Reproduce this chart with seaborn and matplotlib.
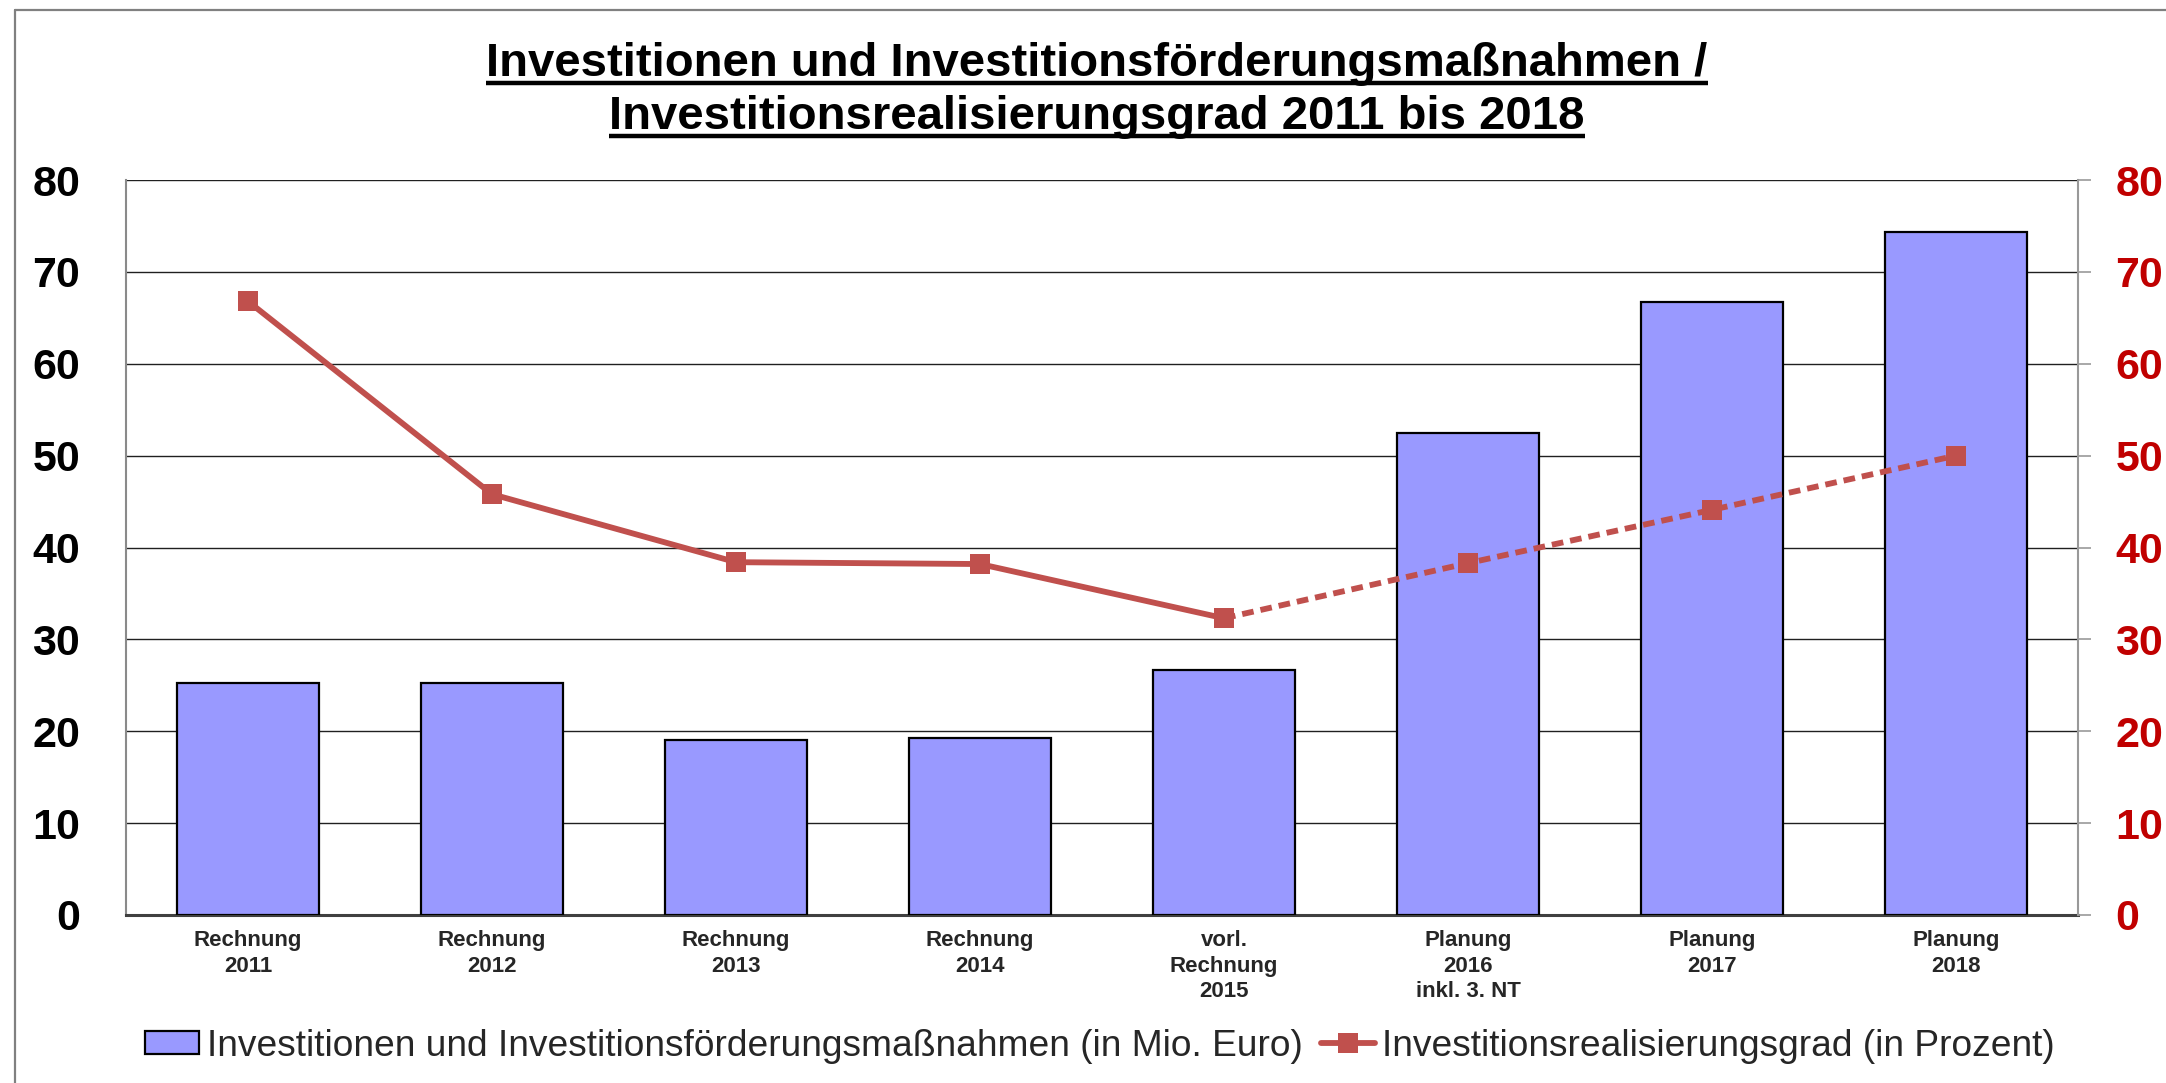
import matplotlib
matplotlib.use("Agg")
import matplotlib.pyplot as plt
from matplotlib.lines import Line2D
from matplotlib.patches import Patch
import numpy as np
import pandas as pd
import seaborn as sns

# ---- data ----
categories = ["Rechnung\n2011", "Rechnung\n2012", "Rechnung\n2013", "Rechnung\n2014",
              "vorl.\nRechnung\n2015", "Planung\n2016\ninkl. 3. NT", "Planung\n2017", "Planung\n2018"]
investments = [25.2, 25.3, 19.1, 19.25, 26.7, 52.5, 66.7, 74.3]
realisation = [66.8, 45.8, 38.4, 38.2, 32.3, 38.3, 44.1, 50.0]
yticks = [0, 10, 20, 30, 40, 50, 60, 70, 80]
title_lines = ["Investitionen und Investitionsförderungsmaßnahmen /",
               "Investitionsrealisierungsgrad 2011 bis 2018"]
legend_labels = ["Investitionen und Investitionsförderungsmaßnahmen (in Mio. Euro)",
                 "Investitionsrealisierungsgrad (in Prozent)"]

sns.set_theme(style="white")
plt.rcParams['font.family'] = ['Liberation Sans', 'DejaVu Sans']

W, H = 2166, 1083
fig = plt.figure(figsize=(W / 100, H / 100), dpi=100)
fig.patch.set_facecolor("white")

ax = fig.add_axes([126 / W, 1 - 915 / H, (2078 - 126) / W, (915 - 180) / H])

BAR = "#9999FF"
LINE = "#C0504D"
RED = "#C00000"

df = pd.DataFrame({"cat": categories, "val": investments})
sns.barplot(data=df, x="cat", y="val", ax=ax, color=BAR, saturation=1, width=0.58,
            edgecolor="black", linewidth=1.6, zorder=3)
ax.set_xlim(-0.5, len(categories) - 0.5)
ax.set_ylim(0, 80)
ax.set_yticks(yticks)
ax.set_yticklabels([str(v) for v in yticks], fontsize=31, fontweight="bold", color="black")
ax.set_xlabel("")
ax.set_ylabel("")
ax.tick_params(axis="x", length=0, pad=11)
ax.tick_params(axis="y", length=0, pad=33)
for lab in ax.get_xticklabels():
    lab.set_fontsize(16)
    lab.set_fontweight("bold")
    lab.set_linespacing(1.28)
ax.grid(axis="y", color="#202020", linewidth=1.0)
ax.grid(axis="x", visible=False)
ax.set_axisbelow(True)
ax.spines["top"].set_visible(False)
ax.spines["right"].set_visible(False)
ax.spines["left"].set_color("#8a8a8a")
ax.spines["left"].set_linewidth(1.5)
ax.spines["bottom"].set_color("#404040")
ax.spines["bottom"].set_linewidth(2.2)

ax2 = ax.twinx()
idx = np.arange(len(categories))
sns.lineplot(x=idx[:5], y=realisation[:5], ax=ax2, color=LINE, linewidth=4.2,
             marker="s", markersize=14.5, markeredgewidth=0, zorder=5)
sns.lineplot(x=idx[4:], y=realisation[4:], ax=ax2, color=LINE, linewidth=4.2,
             linestyle=(0, (2.0, 1.2)), marker="s", markersize=14.5, markeredgewidth=0, zorder=5)
ax2.set_ylim(0, 80)
ax2.set_yticks(yticks)
ax2.set_yticklabels([str(v) for v in yticks], fontsize=31, fontweight="bold", color=RED)
ax2.tick_params(axis="y", length=9, width=1.2, color="#999999", direction="out", pad=18, right=True)
ax2.set_ylabel("")
ax2.grid(False)
for s in ["top", "left", "bottom"]:
    ax2.spines[s].set_visible(False)
ax2.spines["right"].set_color("#999999")
ax2.spines["right"].set_linewidth(1.5)
ax.set_xlim(-0.5, len(categories) - 0.5)

# ---- outer border (cut at right/bottom) ----
fig.add_artist(Line2D([15 / W, 1.0], [1 - 10 / H, 1 - 10 / H], transform=fig.transFigure,
                      color="#808080", linewidth=1.6))
fig.add_artist(Line2D([15 / W, 15 / W], [1 - 10 / H, 0.0], transform=fig.transFigure,
                      color="#808080", linewidth=1.6))

# ---- title with underline ----
title_texts = []
for line, base in zip(title_lines, [76, 129]):
    t = fig.text(1097 / W, 1 - base / H, line, ha="center", va="baseline",
                 fontsize=34, fontweight="bold", color="black")
    title_texts.append((t, base))

# ---- legend ----
handles = [Patch(facecolor=BAR, edgecolor="black", linewidth=1.6),
           Line2D([0], [0], color=LINE, linewidth=4.2, marker="s", markersize=14.5, markeredgewidth=0)]
fig.legend(handles, legend_labels, loc="center", bbox_to_anchor=(1100 / W, 1 - 1046 / H),
           ncol=2, frameon=False, fontsize=26.7, handlelength=1.45, handleheight=0.55,
           handletextpad=0.2, columnspacing=0.5, borderaxespad=0, borderpad=0)

fig.canvas.draw()
r = fig.canvas.get_renderer()
for t, base in title_texts:
    bb = t.get_window_extent(r)
    y = 1 - (base + 7) / H
    fig.add_artist(Line2D([bb.x0 / W, bb.x1 / W], [y, y], transform=fig.transFigure,
                          color="black", linewidth=3.2, solid_capstyle="butt"))

fig.savefig("out.png", dpi=100, facecolor="white")
